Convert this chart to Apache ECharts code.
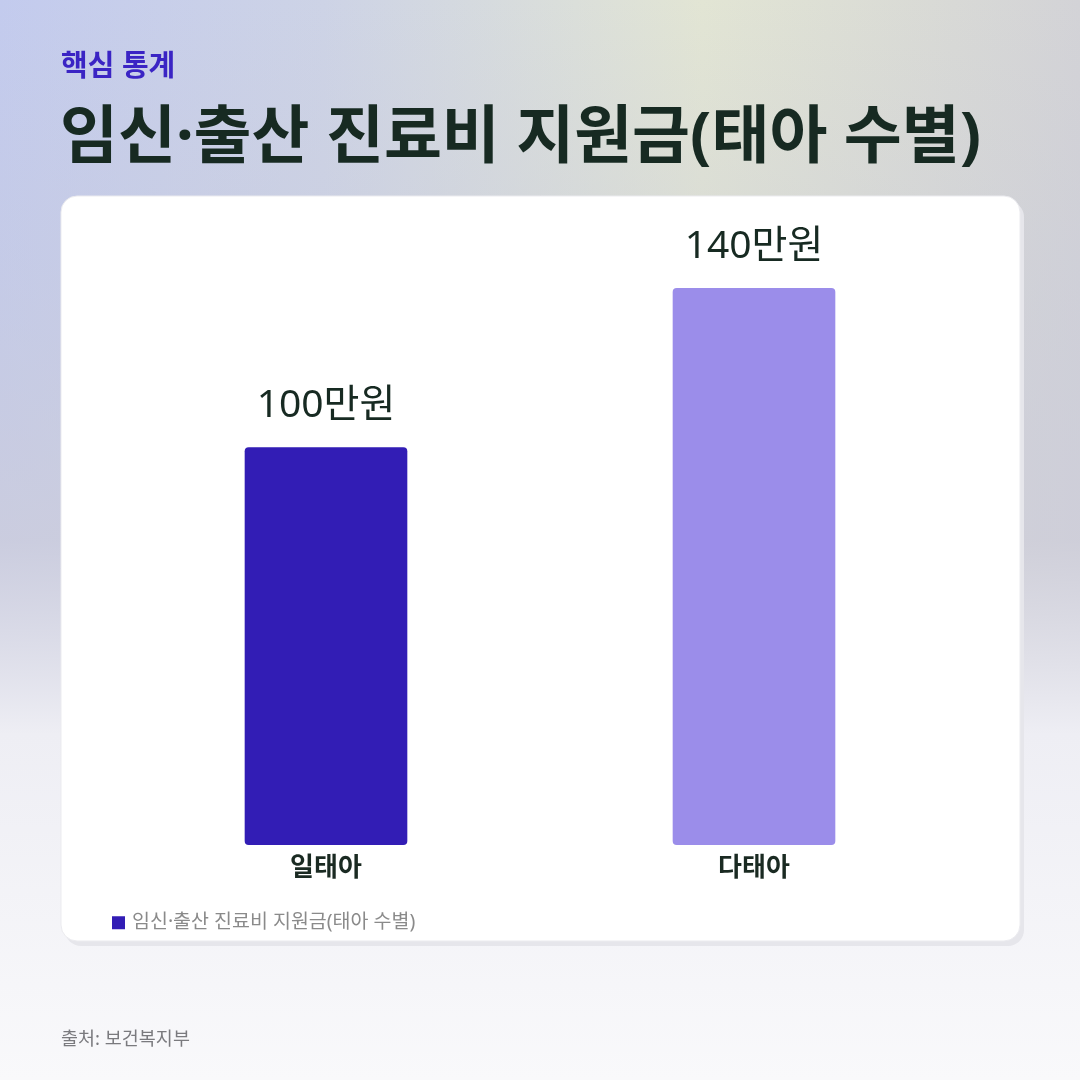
<!DOCTYPE html>
<html>
<head>
<meta charset="utf-8">
<script src="https://cdn.jsdelivr.net/npm/echarts@6/dist/echarts.min.js"></script>
<style>
html,body{margin:0;padding:0;width:1080px;height:1080px;overflow:hidden;}
#c{width:1080px;height:1080px;}
</style>
</head>
<body>
<div id="c"></div>
<script>
const categories = ['일태아', '다태아'];
const values = [100, 140];
const valueLabels = ['100만원', '140만원'];
const barColors = ['#321db5', '#9b8dea'];
const seriesName = '임신·출산 진료비 지원금(태아 수별)';
const kicker = '핵심 통계';
const titleText = '임신·출산 진료비 지원금(태아 수별)';
const sourceText = '출처: 보건복지부';

const FONT = '"Noto Sans", "Noto Sans CJK KR", sans-serif';
const chart = echarts.init(document.getElementById('c'), null, {renderer: 'canvas'});

chart.setOption({
  animation: false,
  textStyle: {fontFamily: FONT},
  graphic: [
    {type: 'rect', z: -10, silent: true, shape: {x: 0, y: 0, width: 1080, height: 1080},
     style: {fill: new echarts.graphic.LinearGradient(0, 0, 1, 0, [
       {offset: 0, color: '#c3cbee'},
       {offset: 0.3, color: '#cdd3e6'},
       {offset: 0.65, color: '#e2e5d4'},
       {offset: 1, color: '#d3d3d7'}
     ])}},
    {type: 'rect', z: -9, silent: true, shape: {x: 0, y: 0, width: 1080, height: 1080},
     style: {fill: new echarts.graphic.LinearGradient(0, 0, 0, 1, [
       {offset: 0, color: 'rgba(200,201,214,0)'},
       {offset: 0.25, color: 'rgba(200,202,218,0.35)'},
       {offset: 0.5, color: 'rgba(205,205,218,0.75)'},
       {offset: 0.68, color: 'rgba(238,238,244,1)'},
       {offset: 1, color: 'rgba(249,249,251,1)'}
     ])}},
    {type: 'rect', z: -8, silent: true, shape: {x: 65, y: 201, width: 959, height: 745, r: 16},
     style: {fill: '#e6e6eb'}},
    {type: 'rect', z: -7, silent: true, shape: {x: 61, y: 196, width: 959, height: 745, r: 16},
     style: {fill: '#ffffff', stroke: '#ebebef', lineWidth: 1}},
    {type: 'text', z: 5, left: 61, top: 53, silent: true,
     style: {text: kicker, fontFamily: FONT, fontSize: 29, fontWeight: 'bold', fill: '#3a24c4'}},
    {type: 'text', z: 5, left: 60, top: 108, silent: true,
     style: {text: titleText, fontFamily: FONT, fontSize: 63, fontWeight: 'bold', fill: '#172a22'}},
    {type: 'text', z: 5, left: 61, top: 1030, silent: true,
     style: {text: sourceText, fontFamily: FONT, fontSize: 18.5, fill: '#7a7a7e'}}
  ],
  legend: {
    left: 107, top: 908,
    icon: 'rect', itemWidth: 13, itemHeight: 13, itemGap: 10,
    textStyle: {fontFamily: FONT, fontSize: 19.5, color: '#8a8a8a', padding: [0, 0, 0, 2]},
    data: [seriesName]
  },
  grid: {left: 112, width: 856, top: 288, height: 557, containLabel: false},
  xAxis: {
    type: 'category', data: categories,
    axisLine: {show: false}, axisTick: {show: false},
    axisLabel: {margin: 11, fontFamily: FONT, fontSize: 26, fontWeight: 'bold', color: '#1a2a22'}
  },
  yAxis: {
    type: 'value', min: 0, max: 140,
    show: false, splitLine: {show: false}
  },
  series: [{
    name: seriesName, type: 'bar', barWidth: '38%',
    itemStyle: {color: barColors[0], borderRadius: 4},
    data: values.map((v, i) => ({value: v, itemStyle: {color: barColors[i], borderRadius: 4}})),
    label: {
      show: true, position: 'top', distance: 22,
      fontFamily: FONT, fontSize: 39, color: '#172a22', lineHeight: 38,
      formatter: p => valueLabels[p.dataIndex]
    }
  }]
});
</script>
</body>
</html>
